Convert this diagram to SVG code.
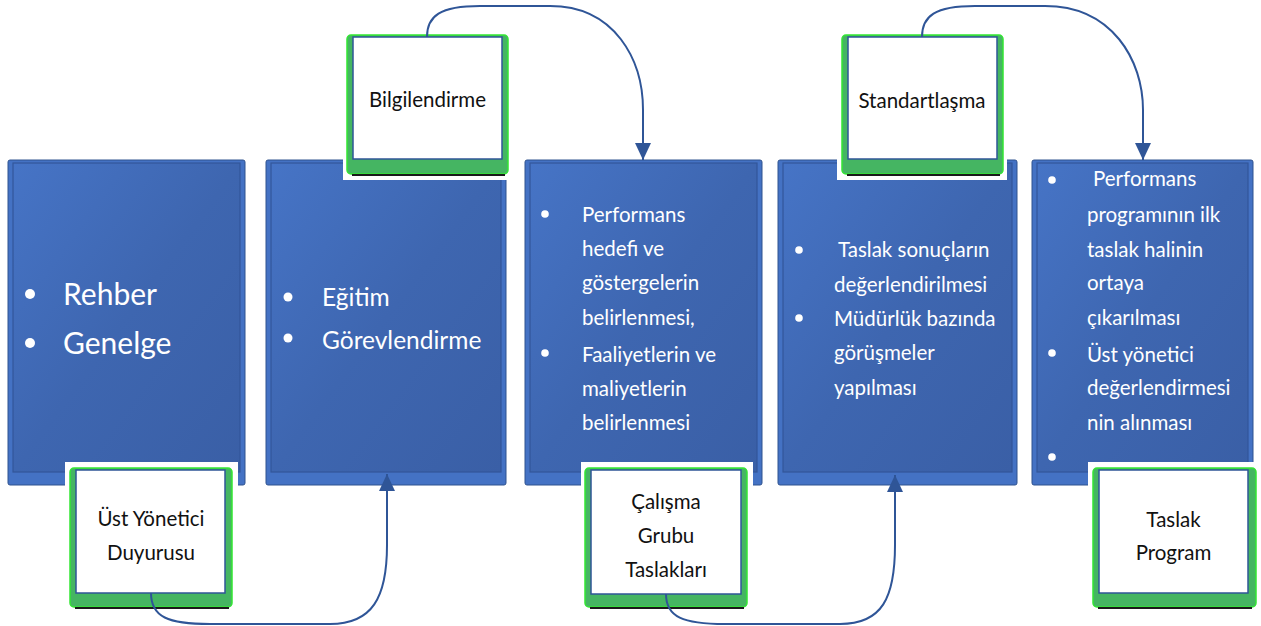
<svg xmlns="http://www.w3.org/2000/svg" width="1261" height="626" viewBox="0 0 1261 626">
<style>
.bo{fill:#4472C4;stroke:#2F528F;stroke-width:1}
.bi{fill:url(#bg);stroke:#33569A;stroke-width:1.2}
.bt{font-family:Lato,"Open Sans",sans-serif;fill:#fff}
.dot{fill:#fff}
.wb{fill:#fff}
.gr{fill:#45B562;stroke:#33E633;stroke-width:1.5}
.sh{stroke:#1a1a1a;stroke-width:2}
.wi{fill:#fff;stroke:#2F5597;stroke-width:1.5}
.lt{font-family:Lato,"Open Sans",sans-serif;font-size:20.5px;fill:#111;text-anchor:middle}
.cn{fill:none;stroke:#2F5597;stroke-width:2}
</style>
<defs>
<linearGradient id="bg" x1="0" y1="0" x2="1" y2="1">
<stop offset="0" stop-color="#4674C6"/>
<stop offset="0.5" stop-color="#3E66B0"/>
<stop offset="1" stop-color="#3A5FA6"/>
</linearGradient>
<marker id="ah" viewBox="0 0 17 16" refX="17" refY="8" markerWidth="17" markerHeight="16" markerUnits="userSpaceOnUse" orient="auto">
<path d="M0,0 L17,8 L0,16 Z" fill="#2F5597"/>
</marker>
</defs>
<rect width="1261" height="626" fill="#fff"/>

<g id="box1">
<rect class="bo" x="8" y="160" width="237" height="325" rx="2"/>
<rect class="bi" x="13" y="163" width="227" height="309"/>
<circle class="dot" cx="30" cy="294" r="5"/>
<circle class="dot" cx="30" cy="343" r="5"/>
<text class="bt" font-size="30" x="63" y="305">Rehber</text>
<text class="bt" font-size="30" x="63" y="354">Genelge</text>
</g>

<g id="box2">
<rect class="bo" x="266" y="160" width="240" height="325" rx="2"/>
<rect class="bi" x="271" y="163" width="230" height="309"/>
<circle class="dot" cx="288" cy="297" r="4.5"/>
<circle class="dot" cx="288" cy="338" r="4.5"/>
<text class="bt" font-size="24.5" x="322" y="306">Eğitim</text>
<text class="bt" font-size="24.5" x="322" y="349">Görevlendirme</text>
</g>

<g id="box3">
<rect class="bo" x="525" y="160" width="237" height="325" rx="2"/>
<rect class="bi" x="530" y="163" width="227" height="309"/>
<circle class="dot" cx="545" cy="214" r="3.8"/>
<circle class="dot" cx="545" cy="353" r="3.8"/>
<g class="bt" font-size="20.5">
<text x="582" y="222">Performans</text>
<text x="582" y="256">hedefi ve</text>
<text x="582" y="290">göstergelerin</text>
<text x="582" y="325">belirlenmesi,</text>
<text x="582" y="362">Faaliyetlerin ve</text>
<text x="582" y="396">maliyetlerin</text>
<text x="582" y="430">belirlenmesi</text>
</g>
</g>

<g id="box4">
<rect class="bo" x="778" y="160" width="239" height="325" rx="2"/>
<rect class="bi" x="783" y="163" width="229" height="309"/>
<circle class="dot" cx="799" cy="250" r="3.8"/>
<circle class="dot" cx="799" cy="318" r="3.8"/>
<g class="bt" font-size="20.5">
<text x="838" y="257">Taslak sonuçların</text>
<text x="834" y="292">değerlendirilmesi</text>
<text x="834" y="326">Müdürlük bazında</text>
<text x="834" y="360">görüşmeler</text>
<text x="834" y="395">yapılması</text>
</g>
</g>

<g id="box5">
<rect class="bo" x="1032" y="160" width="221" height="325" rx="2"/>
<rect class="bi" x="1037" y="163" width="211" height="309"/>
<circle class="dot" cx="1052" cy="180" r="3.8"/>
<circle class="dot" cx="1052" cy="353" r="3.8"/>
<circle class="dot" cx="1052" cy="457" r="3.8"/>
<g class="bt" font-size="20.5">
<text x="1093" y="186">Performans</text>
<text x="1087" y="222">programının ilk</text>
<text x="1087" y="257">taslak halinin</text>
<text x="1087" y="290">ortaya</text>
<text x="1087" y="325">çıkarılması</text>
<text x="1087" y="362">Üst yönetici</text>
<text x="1087" y="395">değerlendirmesi</text>
<text x="1087" y="430">nin alınması</text>
</g>
</g>

<g id="bilgilendirme">
<rect class="wb" x="343" y="30" width="167" height="150"/>
<rect class="gr" x="347" y="35" width="161" height="139" rx="4"/>
<line class="sh" x1="352" y1="175" x2="505" y2="175"/>
<rect class="wi" x="353" y="37" width="149" height="122"/>
<text class="lt" x="427.5" y="107">Bilgilendirme</text>
</g>

<g id="standartlasma">
<rect class="wb" x="837" y="30" width="170" height="150"/>
<rect class="gr" x="842" y="35" width="161" height="139" rx="4"/>
<line class="sh" x1="847" y1="175" x2="1000" y2="175"/>
<rect class="wi" x="848" y="37" width="149" height="122"/>
<text class="lt" x="922" y="108">Standartlaşma</text>
</g>

<g id="ust-yonetici">
<rect class="wb" x="65" y="462" width="173" height="150"/>
<rect class="gr" x="70" y="468" width="162" height="139" rx="4"/>
<line class="sh" x1="75" y1="608" x2="229" y2="608"/>
<rect class="wi" x="76" y="470" width="149" height="123"/>
<text class="lt" x="151" y="526">Üst Yönetici</text>
<text class="lt" x="151" y="560">Duyurusu</text>
</g>

<g id="calisma">
<rect class="wb" x="581" y="462" width="172" height="150"/>
<rect class="gr" x="585" y="468" width="162" height="139" rx="4"/>
<line class="sh" x1="590" y1="608" x2="744" y2="608"/>
<rect class="wi" x="591" y="470" width="150" height="124"/>
<text class="lt" x="666" y="509">Çalışma</text>
<text class="lt" x="666" y="543">Grubu</text>
<text class="lt" x="666" y="577">Taslakları</text>
</g>

<g id="taslak-program">
<rect class="wb" x="1088" y="462" width="173" height="150"/>
<rect class="gr" x="1093" y="468" width="163" height="139" rx="4"/>
<line class="sh" x1="1098" y1="608" x2="1252" y2="608"/>
<rect class="wi" x="1099" y="470" width="149" height="123"/>
<text class="lt" x="1173.5" y="527">Taslak</text>
<text class="lt" x="1173.5" y="560">Program</text>
</g>

<g id="connectors">
<path class="cn" marker-end="url(#ah)" d="M151,593 C151,617 168,624 210,624 L330,624 C372,624 387,598 387,545 L387,474"/>
<path class="cn" marker-end="url(#ah)" d="M427,37 C427,16 440,6 480,6 L550,6 C615,6 643,60 643,110 L643,160"/>
<path class="cn" marker-end="url(#ah)" d="M666,594 C666,617 683,624 725,624 L840,624 C882,624 895,598 895,545 L895,475"/>
<path class="cn" marker-end="url(#ah)" d="M922,37 C922,16 935,6 975,6 L1045,6 C1112,6 1143,60 1143,110 L1143,160"/>
</g>
</svg>
